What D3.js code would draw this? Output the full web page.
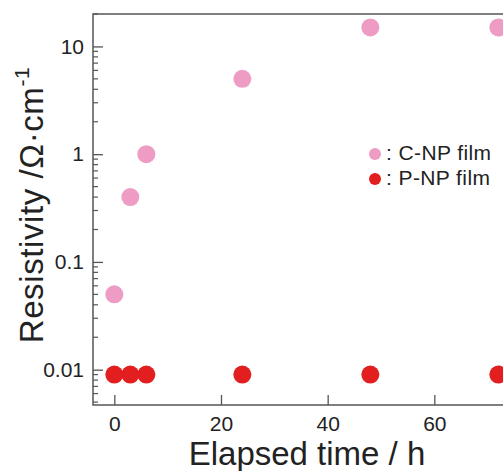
<!DOCTYPE html>
<html>
<head>
<meta charset="utf-8">
<script src="https://cdn.jsdelivr.net/npm/d3@7"></script>
<style>
  body { margin: 0; background: #fff; }
  svg { display: block; font-family: "Liberation Sans", Arial, sans-serif; }
</style>
</head>
<body>
<div id="chart"></div>
<script>
// Elapsed time (h) for each measurement
const hours = [0, 3, 6, 24, 48, 72];
// Resistivity (Ohm cm) of each film
const cnpValues = [0.05, 0.4, 1, 5, 15, 15];
const pnpValues = [0.009, 0.009, 0.009, 0.009, 0.009, 0.009];
const seriesNames = ['C-NP film', 'P-NP film'];
const xTicks = [0, 20, 40, 60];
const yTicks = [0.01, 0.1, 1, 10];
const yTickLabels = ['0.01', '0.1', '1', '10'];

const width = 503, height = 471;
const colors = { cnp: '#ee9cc4', pnp: '#e31e1f' };

const svg = d3.select('#chart').append('svg')
    .attr('width', width)
    .attr('height', height);

// scales - plot area runs past the right edge, like the cropped figure
const x = d3.scaleLinear().domain([-4, 80]).range([93, 541]);
const y = d3.scaleLog().domain([0.0047, 20]).range([405, 14]);

const axisColor = '#555';

// frame: left, top, bottom
svg.append('path')
    .attr('d', `M${x(80)},${y.range()[1]}H${x.range()[0]}V${y.range()[0]}H${x(80)}`)
    .attr('fill', 'none')
    .attr('stroke', axisColor)
    .attr('stroke-width', 1.5);

// y axis: major ticks pointing in
const yAxis = d3.axisLeft(y)
    .tickValues(yTicks)
    .tickFormat((d, i) => yTickLabels[i])
    .tickSize(-10)
    .tickPadding(9);
const gy = svg.append('g')
    .attr('transform', `translate(${x.range()[0]},0)`)
    .call(yAxis);
gy.select('.domain').remove();
gy.selectAll('line').attr('stroke', axisColor).attr('stroke-width', 1.3);
gy.selectAll('text').attr('font-size', 21).attr('fill', '#222');

// minor ticks on log axis
const minor = y.ticks().filter(d => !yTicks.some(t => Math.abs(t - d) / t < 1e-6));
svg.append('g').selectAll('line')
    .data(minor)
    .enter().append('line')
    .attr('x1', x.range()[0])
    .attr('x2', x.range()[0] + 5)
    .attr('y1', d => y(d))
    .attr('y2', d => y(d))
    .attr('stroke', axisColor)
    .attr('stroke-width', 1.2);

// x axis: ticks pointing up
const xAxis = d3.axisBottom(x)
    .tickValues(xTicks)
    .tickSize(-10)
    .tickPadding(11);
const gx = svg.append('g')
    .attr('transform', `translate(0,${y.range()[0]})`)
    .call(xAxis);
gx.select('.domain').remove();
gx.selectAll('line').attr('stroke', axisColor).attr('stroke-width', 1.3);
gx.selectAll('text').attr('font-size', 21).attr('fill', '#222');

// data points
const cnp = hours.map((h, i) => ({ h: h, v: cnpValues[i] }));
const pnp = hours.map((h, i) => ({ h: h, v: pnpValues[i] }));

svg.append('g').selectAll('circle')
    .data(pnp)
    .enter().append('circle')
    .attr('cx', d => x(d.h))
    .attr('cy', d => y(d.v))
    .attr('r', 9)
    .attr('fill', colors.pnp);

svg.append('g').selectAll('circle')
    .data(cnp)
    .enter().append('circle')
    .attr('cx', d => x(d.h))
    .attr('cy', d => y(d.v))
    .attr('r', 9)
    .attr('fill', colors.cnp);

// legend
const legend = svg.append('g').attr('transform', 'translate(375,154)');
[colors.cnp, colors.pnp].forEach((c, i) => {
    legend.append('circle')
        .attr('cx', 0)
        .attr('cy', i * 25)
        .attr('r', 6)
        .attr('fill', c);
    legend.append('text')
        .attr('x', 11)
        .attr('y', i * 25 + 6)
        .attr('font-size', 21)
        .attr('letter-spacing', 0.4)
        .attr('fill', '#222')
        .text(': ' + seriesNames[i]);
});

// axis titles
svg.append('text')
    .attr('x', 307)
    .attr('y', 465)
    .attr('text-anchor', 'middle')
    .attr('font-size', 33)
    .attr('fill', '#222')
    .text('Elapsed time / h');

const yt = svg.append('text')
    .attr('transform', 'translate(43,205) rotate(-90)')
    .attr('text-anchor', 'middle')
    .attr('font-size', 33)
    .attr('letter-spacing', 0.6)
    .attr('fill', '#222');
yt.append('tspan').text('Resistivity /\u03A9\u00B7cm');
yt.append('tspan').attr('font-size', 21).attr('dy', -14).text('-1');
</script>
</body>
</html>
